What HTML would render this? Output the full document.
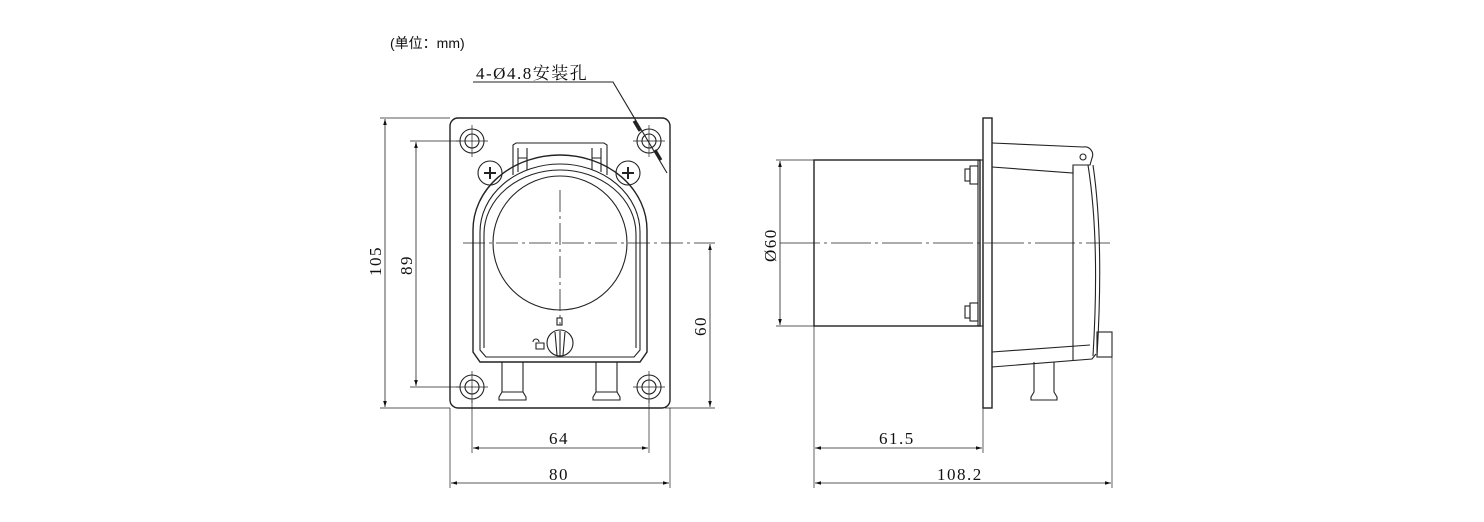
<!DOCTYPE html>
<html><head><meta charset="utf-8"><style>
html,body{margin:0;padding:0;background:#fff;}
svg{display:block}
text{font-family:"Liberation Serif","Noto Serif CJK SC",serif;fill:#111}
</style></head><body>
<svg width="1484" height="522" viewBox="0 0 1484 522" xmlns="http://www.w3.org/2000/svg">
<defs>
<marker id="a" viewBox="0 0 10 10" refX="10" refY="5" markerWidth="9" markerHeight="6" orient="auto-start-reverse" markerUnits="userSpaceOnUse"><path d="M0,2 L10,5 L0,8z" fill="#111"/></marker>
</defs>
<text x="390" y="48" font-size="14" style="font-family:'Liberation Sans','Noto Sans CJK SC',sans-serif">(单位：mm)</text>
<text x="476" y="79" font-size="17" letter-spacing="1.5">4-Ø4.8安装孔</text>
<g fill="none" stroke="#222" stroke-width="1.1">
<polyline points="473,82 613,82 667,173"/>
<path d="M634,121 L640,131" stroke-width="3"/>
<path d="M655,150 L661,160" stroke-width="3"/>
<rect x="450" y="118" width="220" height="290" rx="8" stroke-width="1.4"/>
<g>
<circle cx="472" cy="141" r="12"/><circle cx="472" cy="141" r="7"/>
<circle cx="649" cy="141" r="12"/><circle cx="649" cy="141" r="7"/>
<circle cx="472" cy="387" r="12"/><circle cx="472" cy="387" r="7"/>
<circle cx="649" cy="387" r="12"/><circle cx="649" cy="387" r="7"/>
<path d="M456,141h32M472,125v32M633,141h32M649,125v32M456,387h32M472,371v32M633,387h32M649,371v32" stroke-width="0.7"/>
</g>
<circle cx="490" cy="173" r="12"/><circle cx="628" cy="173" r="12"/>
<path d="M484,173h12M490,167v12M622,173h12M628,167v12" stroke-width="2"/>
<path d="M513,175 V145 L516,143 H604 L607,145 V175"/>
<path d="M518,148 V172 M527,148 V170 M592,148 V170 M601,148 V172 M518,158h9 M592,158h9"/>
<path d="M473,352 V230 A87,75 0 0 1 647,230 V352 L640,362 H480 Z" stroke-width="1.4"/>
<path d="M480,350 V232 A80,68 0 0 1 640,232 V350 L634,357 H486 Z"/>
<path d="M484,348 V234 A76,64 0 0 1 636,234 V348"/>
<circle cx="560" cy="243" r="67"/>
<circle cx="560" cy="343" r="13"/>
<path d="M555,332 L557,355 M560,331 V356 M565,332 L563,355"/>
<rect x="557" y="318" width="5" height="7"/>
<path d="M533,342 a3,3 0 0 1 6,0 M536,343 h8 v6 h-8 z"/>
<path d="M502,362 V392 L499,397 V400 H526 V397 L523,392 V362 M502,392 H523"/>
<path d="M596,362 V392 L593,397 V400 H620 V397 L617,392 V362 M596,392 H617"/>
<path d="M463,243 H708 M560,190 V325" stroke-dasharray="22,4,3,4" stroke-width="0.8"/>
<rect x="983" y="118" width="9" height="290" stroke-width="1.4"/>
<rect x="814" y="160" width="166" height="166" stroke-width="1.4"/>
<rect x="978" y="160" width="5" height="166"/>
<rect x="970" y="166" width="8" height="18"/><rect x="965" y="169" width="5" height="12"/>
<rect x="970" y="303" width="8" height="18"/><rect x="965" y="306" width="5" height="12"/>
<path d="M992,143 L1083,147 A8,8 0 0 1 1092,158 L1090,165 L1073,165 L1073,173 L992,167"/>
<circle cx="1083" cy="157" r="3"/>
<path d="M1073,167 V360 M1088,165 Q1100,240 1093,356 M1093,165 Q1104,240 1097,356"/>
<path d="M992,352 L1090,345 M992,367 L1092,359 L1096,354"/>
<rect x="1097" y="332" width="15" height="25"/>
<path d="M1034,362 V392 L1031,397 V400 H1057 V397 L1054,392 V362"/>
<path d="M780,243 H1110" stroke-dasharray="40,4,3,4" stroke-width="0.8"/>
<path d="M380,118 H450 M380,408 H450 M410,141 H460 M410,387 H460 M665,408 H715 M708,243 H715 M776,160 H814 M776,326 H814" stroke-width="0.7"/>
<path d="M450,408 V488 M670,408 V488 M472,400 V453 M649,400 V453 M814,326 V488 M983,408 V453 M1112,357 V488" stroke-width="0.7"/>
<g marker-start="url(#a)" marker-end="url(#a)" stroke-width="0.8">
<path d="M385,119 V407"/><path d="M416,142 V386"/><path d="M710,244 V407"/><path d="M780,161 V325"/>
<path d="M473,448 H648"/><path d="M451,483 H669"/><path d="M815,448 H982"/><path d="M815,483 H1111"/>
</g>
</g>
<g font-size="17" letter-spacing="1.5">
<text x="549" y="444">64</text>
<text x="549" y="480">80</text>
<text x="879" y="444">61.5</text>
<text x="937" y="480">108.2</text>
<text transform="translate(381,276) rotate(-90)">105</text>
<text transform="translate(412,275) rotate(-90)">89</text>
<text transform="translate(706,336) rotate(-90)">60</text>
<text transform="translate(776,262) rotate(-90)">Ø60</text>
</g>
</svg>
</body></html>
